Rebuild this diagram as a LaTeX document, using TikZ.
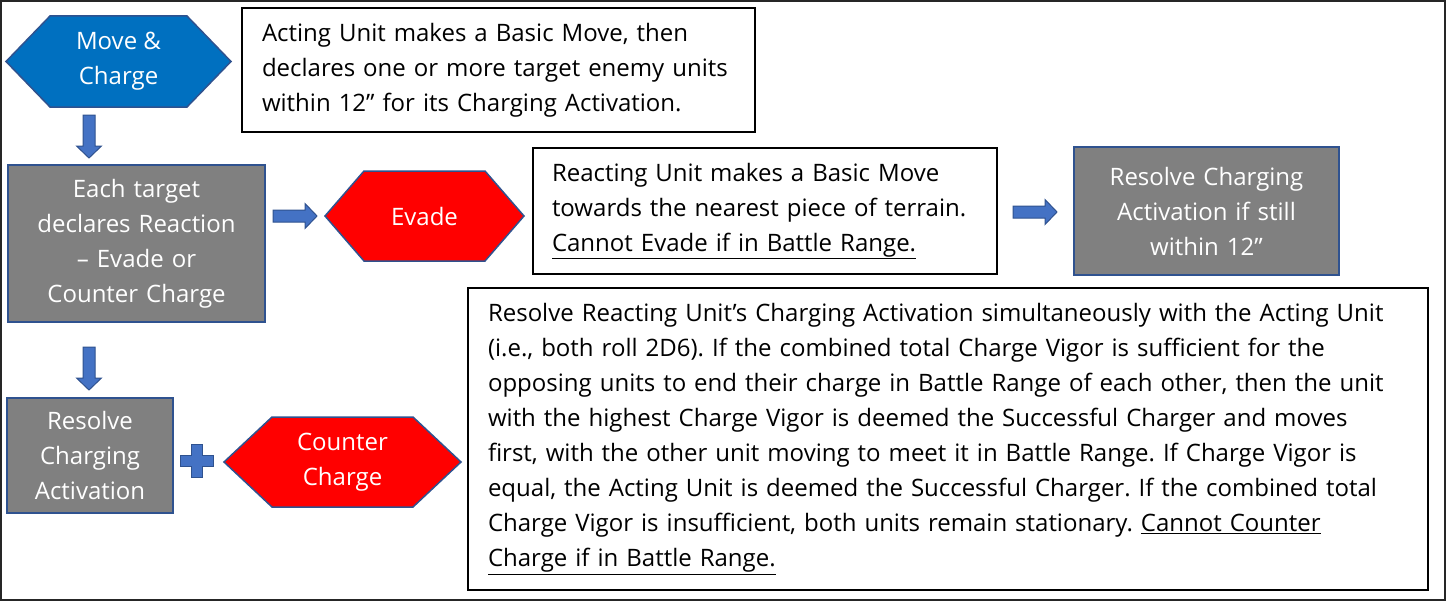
\documentclass[tikz,border=0pt]{standalone}
\usepackage{fontspec}
\setmainfont{Open Sans}
\usetikzlibrary{calc, backgrounds}
\frenchspacing

\definecolor{moveblue}{HTML}{0070C0}
\definecolor{edgeblue}{HTML}{2F528F}
\definecolor{arrowblue}{HTML}{4472C4}
\definecolor{stepgray}{HTML}{808080}
\definecolor{reactred}{HTML}{FF0000}

% hexagon round an invisible node: #1 node, #2 point inset, #3 fill
\newcommand{\drawhex}[3]{%
  \draw[hexedge, fill=#3] (#1.west) -- ($(#1.north west)+(#2,0)$) -- ($(#1.north east)+(-#2,0)$)
    -- (#1.east) -- ($(#1.south east)+(-#2,0)$) -- ($(#1.south west)+(#2,0)$) -- cycle;}

\begin{document}
\begin{tikzpicture}[
  x=1pt, y=-1pt,
  every node/.style={font=\fontsize{24}{35}\selectfont, inner sep=0pt, outer sep=0pt},
  textbox/.style={
    draw=black, line width=1.3pt, align=left, inner xsep=20pt
  },
  graybox/.style={
    draw=edgeblue, line width=2pt, fill=stepgray, text=white, align=center
  },
  hexlabel/.style={text=white, align=center},
  hexedge/.style={draw=edgeblue, line width=1.5pt},
  blockfill/.style={draw=edgeblue, fill=arrowblue, line width=1pt},
  pics/blockarrow/.style={code={
    \draw[blockfill] (0,-6) -- (#1-12,-6) -- (#1-12,-12.5) -- (#1,0) -- (#1-12,12.5) -- (#1-12,6) -- (0,6) -- cycle;
  }},
  pics/plussign/.style={code={
    \draw[blockfill] (-5.5,-16.5) -- (5.5,-16.5) -- (5.5,-5.5) -- (16.5,-5.5) -- (16.5,5.5) -- (5.5,5.5)
      -- (5.5,16.5) -- (-5.5,16.5) -- (-5.5,5.5) -- (-16.5,5.5) -- (-16.5,-5.5) -- (-5.5,-5.5) -- cycle;
  }}
]
\useasboundingbox (0,0) rectangle (1447,602);
\draw[line width=1.5pt, draw=black!85] (1,1) rectangle (1445,600);

% ----------------- TOP ROW -----------------
\node[hexlabel, minimum width=225pt, minimum height=91pt] (move) at (118.5,61.5) {Move \&\\Charge};
\node[textbox, text width=473pt, minimum height=124pt] (actdesc) at (498.5,70)
  {Acting Unit makes a Basic Move, then\\declares one or more target enemy units\\within 12” for its Charging Activation.};

% ----------------- MIDDLE ROW -----------------
\node[graybox, text width=257pt, minimum height=157pt] (target) at (136.5,243.5)
  {Each target\\declares Reaction\\– Evade or\\Counter Charge};
\node[hexlabel, minimum width=199pt, minimum height=90pt] (evade) at (424.5,216) {Evade};
\node[textbox, text width=426pt, inner xsep=19pt, minimum height=126pt] (evadedesc) at (765,211)
  {Reacting Unit makes a Basic Move\\towards the nearest piece of terrain.\\\underline{Cannot Evade if in Battle Range.}};
\node[graybox, text width=265pt, minimum height=128pt] (resolvetop) at (1206.5,211)
  {Resolve Charging\\Activation if still\\within 12”};

% ----------------- BOTTOM ROW -----------------
\node[graybox, text width=166pt, minimum height=115pt] (resolvelow) at (90,455.5)
  {Resolve\\Charging\\Activation};
\node[hexlabel, minimum width=237pt, minimum height=90pt] (counter) at (342.5,462) {Counter\\Charge};
\node[textbox, text width=920pt, minimum height=302pt] (counterdesc) at (948,439)
  {Resolve Reacting Unit’s Charging Activation simultaneously with the Acting Unit\\
   (i.e., both roll 2D6). If the combined total Charge Vigor is sufficient for the\\
   opposing units to end their charge in Battle Range of each other, then the unit\\
   with the highest Charge Vigor is deemed the Successful Charger and moves\\
   first, with the other unit moving to meet it in Battle Range. If Charge Vigor is\\
   equal, the Acting Unit is deemed the Successful Charger. If the combined total\\
   Charge Vigor is insufficient, both units remain stationary. \underline{Cannot Counter}\\
   \underline{Charge if in Battle Range.}};

% ----------------- HEXAGONS -----------------
\begin{scope}[on background layer]
  \drawhex{move}{44}{moveblue}
  \drawhex{evade}{39}{reactred}
  \drawhex{counter}{48}{reactred}
\end{scope}

% ----------------- BLOCK ARROWS -----------------
\pic[rotate=-90] at (89,115) {blockarrow=43};
\pic at (273,216) {blockarrow=44};
\pic at (1013,212) {blockarrow=44};
\pic[rotate=-90] at (89,347) {blockarrow=43};
\pic at (197,461) {plussign};

\end{tikzpicture}
\end{document}
